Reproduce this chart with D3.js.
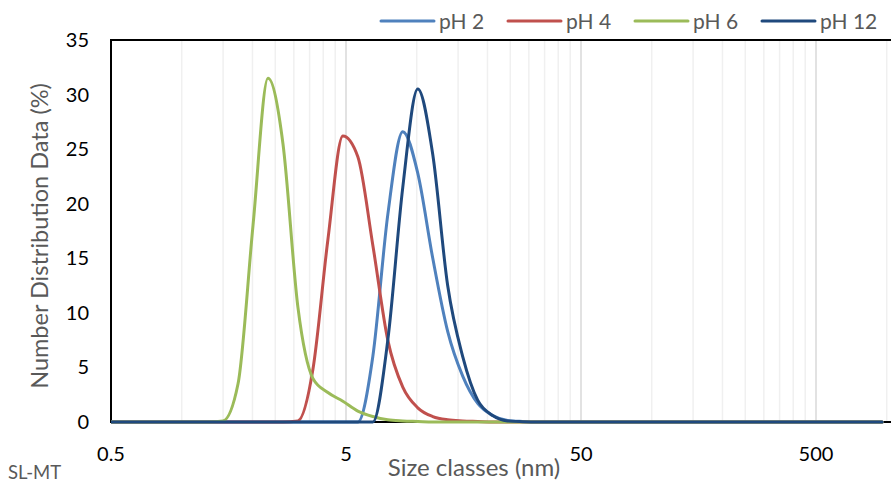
<!DOCTYPE html>
<html>
<head>
<meta charset="utf-8">
<script src="https://cdn.jsdelivr.net/npm/d3@7"></script>
<style>
  body { margin: 0; background: #fff; }
  svg { display: block; font-family: Lato, "Open Sans", sans-serif; }
</style>
</head>
<body>
<div id="chart"></div>
<script>
// size classes (nm), Malvern bins
const sizes = [0.4, 0.4632, 0.5365, 0.6213, 0.7195, 0.8332, 0.9649, 1.117, 1.294, 1.499,
  1.736, 2.01, 2.328, 2.696, 3.122, 3.615, 4.187, 4.849, 5.615, 6.503,
  7.531, 8.721, 10.1, 11.7, 13.54, 15.69, 18.17, 21.04, 24.36, 28.21,
  32.67, 37.84, 43.82, 50.75, 58.77, 68.06, 78.82, 91.28, 105.7, 122.4,
  141.8, 164.2, 190.1, 220.2, 255, 295.3, 342, 396.1, 458.7, 531.2,
  615.1, 712.4, 825, 955.4];

// number distribution (%) per series
const ph2 = [0, 0, 0, 0, 0, 0, 0, 0, 0, 0,
  0, 0, 0, 0, 0, 0, 0, 0, 0, 6,
  19, 26.6, 22.8, 15, 8.3, 4.2, 1.7, 0.6, 0.15, 0.05,
  0, 0, 0, 0, 0, 0, 0, 0, 0, 0,
  0, 0, 0, 0, 0, 0, 0, 0, 0, 0,
  0, 0, 0, 0];
const ph4 = [0, 0, 0, 0, 0, 0, 0, 0, 0, 0,
  0, 0, 0, 0, 0.1, 4.8, 16.7, 26.2, 24.3, 16.2,
  7.5, 3.2, 1.3, 0.5, 0.2, 0.1, 0.05, 0, 0, 0,
  0, 0, 0, 0, 0, 0, 0, 0, 0, 0,
  0, 0, 0, 0, 0, 0, 0, 0, 0, 0,
  0, 0, 0, 0];
const ph6 = [0, 0, 0, 0, 0, 0, 0, 0, 0, 0.1,
  3.5, 18, 31.5, 25.5, 10.5, 4.0, 2.7, 1.9, 1.0, 0.5,
  0.2, 0.1, 0.05, 0, 0, 0, 0, 0, 0, 0,
  0, 0, 0, 0, 0, 0, 0, 0, 0, 0,
  0, 0, 0, 0, 0, 0, 0, 0, 0, 0,
  0, 0, 0, 0];
const ph12 = [0, 0, 0, 0, 0, 0, 0, 0, 0, 0,
  0, 0, 0, 0, 0, 0, 0, 0, 0, 0,
  7.5, 21.5, 30.5, 24.5, 12.5, 6, 2.0, 0.6, 0.1, 0.03,
  0, 0, 0, 0, 0, 0, 0, 0, 0, 0,
  0, 0, 0, 0, 0, 0, 0, 0, 0, 0,
  0, 0, 0, 0];

const seriesNames = ["pH 2", "pH 4", "pH 6", "pH 12"];
const seriesValues = [ph2, ph4, ph6, ph12];
const seriesColors = ["#4F81BD", "#C0504D", "#9BBB59", "#1F497D"];

const xTicks = [0.5, 5, 50, 500];
const xTickLabels = ["0.5", "5", "50", "500"];
const yTicks = [0, 5, 10, 15, 20, 25, 30, 35];

const W = 891, H = 483;
const plotLeft = 111, plotTop = 40, plotBottom = 422;
const decade = 235;
const xMax = 1100;

const svg = d3.select("#chart").append("svg")
  .attr("width", W).attr("height", H);

const x = d3.scaleLog().domain([0.5, xMax])
  .range([plotLeft, plotLeft + decade * Math.log10(xMax / 0.5)]);
const y = d3.scaleLinear().domain([0, 35]).range([plotBottom, plotTop]);

// gridlines (major + minor, vertical only)
const minor = [];
[0.5, 5, 50, 500].forEach(b => {
  for (let k = 2; k <= 9; k++) if (b * k <= xMax) minor.push(b * k);
});
svg.append("g").selectAll("line").data(minor).enter().append("line")
  .attr("x1", d => x(d)).attr("x2", d => x(d))
  .attr("y1", plotTop).attr("y2", plotBottom)
  .attr("stroke", "#F0F0F0").attr("stroke-width", 1.5);
svg.append("g").selectAll("line").data(xTicks.slice(1)).enter().append("line")
  .attr("x1", d => x(d)).attr("x2", d => x(d))
  .attr("y1", plotTop).attr("y2", plotBottom)
  .attr("stroke", "#D9D9D9").attr("stroke-width", 1.5);

// plot border: left, top, bottom
svg.append("line").attr("x1", plotLeft).attr("x2", W).attr("y1", plotTop).attr("y2", plotTop)
  .attr("stroke", "#000").attr("stroke-width", 2);
svg.append("line").attr("x1", plotLeft).attr("x2", W).attr("y1", plotBottom).attr("y2", plotBottom)
  .attr("stroke", "#000").attr("stroke-width", 2);
svg.append("line").attr("x1", plotLeft).attr("x2", plotLeft)
  .attr("y1", plotTop - 1).attr("y2", plotBottom + 1)
  .attr("stroke", "#000").attr("stroke-width", 2);

// y tick labels
svg.append("g").selectAll("text").data(yTicks).enter().append("text")
  .attr("x", 89).attr("y", d => y(d)).attr("dy", "0.35em")
  .attr("text-anchor", "end").attr("font-size", 20).attr("fill", "#000")
  .text(d => d);

// x tick labels
svg.append("g").selectAll("text").data(xTicks).enter().append("text")
  .attr("x", d => x(d)).attr("y", 461)
  .attr("text-anchor", "middle").attr("font-size", 20).attr("fill", "#000")
  .text((d, i) => xTickLabels[i]);

// axis titles
svg.append("text").attr("x", 474).attr("y", 476)
  .attr("text-anchor", "middle").attr("font-size", 24).attr("fill", "#595959")
  .text("Size classes (nm)");
svg.append("text").attr("transform", "translate(48,236) rotate(-90)")
  .attr("text-anchor", "middle").attr("font-size", 23.5).attr("fill", "#595959")
  .text("Number Distribution Data (%)");
svg.append("text").attr("x", 8).attr("y", 479)
  .attr("font-size", 18.5).attr("fill", "#595959").text("SL-MT");

// series
svg.append("clipPath").attr("id", "plot-clip").append("rect")
  .attr("x", plotLeft).attr("y", 0).attr("width", W - plotLeft).attr("height", plotBottom + 6);

const line = d3.line()
  .x((d, i) => x(sizes[i]))
  .y(d => y(d))
  .curve(d3.curveMonotoneX);

svg.append("g").attr("clip-path", "url(#plot-clip)")
  .selectAll("path").data(seriesValues).enter().append("path")
  .attr("d", d => line(d))
  .attr("fill", "none")
  .attr("stroke", (d, i) => seriesColors[i])
  .attr("stroke-width", 3)
  .attr("stroke-linejoin", "round")
  .attr("stroke-linecap", "round");

// legend
const legend = svg.append("g").selectAll("g").data(seriesNames).enter().append("g")
  .attr("transform", (d, i) => `translate(${381 + i * 127},21)`);
legend.append("line").attr("x1", 0).attr("x2", 53).attr("y1", 0).attr("y2", 0)
  .attr("stroke", (d, i) => seriesColors[i]).attr("stroke-width", 3)
  .attr("stroke-linecap", "round");
legend.append("text").attr("x", 58).attr("y", 8)
  .attr("font-size", 21).attr("fill", "#595959").text(d => d);
</script>
</body>
</html>
